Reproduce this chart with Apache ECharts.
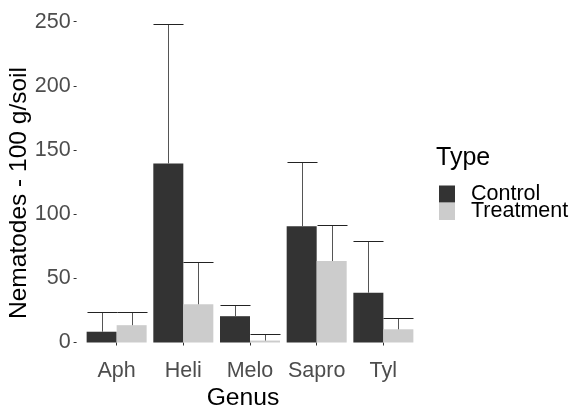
<!DOCTYPE html>
<html>
<head>
<meta charset="utf-8">
<script src="https://cdn.jsdelivr.net/npm/echarts@6/dist/echarts.min.js"></script>
<style>html,body{margin:0;padding:0;background:#fff;}#c{width:572px;height:405px;}</style>
</head>
<body>
<div id="c"></div>
<script>
var categories = ['Aph', 'Heli', 'Melo', 'Sapro', 'Tyl'];
var seriesNames = ['Control', 'Treatment'];
var controlMean = [8.4, 139.5, 20.5, 90.5, 38.8];
var controlUpper = [24, 248.5, 29, 140.5, 79];
var treatmentMean = [13.5, 29.8, 1.5, 63.5, 10.3];
var treatmentUpper = [23.5, 63, 6.5, 91.5, 19.3];
var yTicks = [0, 50, 100, 150, 200, 250];

var FONT = '"Liberation Sans", Arial, sans-serif';

function errRender(sign) {
  return function (params, api) {
    var ci = api.value(0), mean = api.value(1), up = api.value(2);
    var base = api.coord([ci, mean]);
    var top = api.coord([ci, up]);
    var band = api.size([1, 0])[0];
    var hw = band * 0.225;
    var cx = Math.round(base[0] + sign * hw) + 0.5;
    var ty = Math.round(top[1]) + 0.5;
    return {
      type: 'group',
      children: [
        { type: 'line', shape: { x1: cx, y1: base[1], x2: cx, y2: ty }, style: { stroke: '#555', lineWidth: 1 } },
        { type: 'line', shape: { x1: cx - hw, y1: ty, x2: cx + hw, y2: ty }, style: { stroke: '#222', lineWidth: 1 } }
      ]
    };
  };
}

var chart = echarts.init(document.getElementById('c'), null, { renderer: 'canvas' });
chart.setOption({
  animation: false,
  backgroundColor: '#fff',
  textStyle: { fontFamily: FONT },
  title: {
    text: 'Type', left: 436, top: 146, padding: 0,
    textStyle: { fontFamily: FONT, fontSize: 25, fontWeight: 'normal', color: '#000' }
  },
  legend: {
    data: seriesNames,
    orient: 'vertical',
    left: 439, top: 183, padding: 0,
    itemWidth: 16, itemHeight: 17, itemGap: -4.5,
    icon: 'rect',
    textStyle: { fontFamily: FONT, fontSize: 21.5, color: '#000', lineHeight: 17, padding: [0, 0, 0, 11] }
  },
  grid: { left: 83.3, right: 155.3, top: 21.7, bottom: 62.5 },
  xAxis: {
    type: 'category',
    data: categories,
    offset: 16,
    axisLine: { show: false },
    axisTick: { show: true, length: 3, interval: 0, alignWithLabel: true, lineStyle: { color: '#333' } },
    axisLabel: { color: '#4d4d4d', fontSize: 21.5, margin: 2, interval: 0, fontFamily: FONT }
  },
  yAxis: {
    type: 'value',
    min: 0, max: 250, interval: 50,
    offset: 6.7,
    axisLine: { show: false },
    splitLine: { show: false },
    axisTick: { show: true, length: 3, lineStyle: { color: '#333' } },
    axisLabel: { color: '#4d4d4d', fontSize: 21.5, margin: 6, fontFamily: FONT,
      formatter: function (v) { return yTicks.indexOf(v) >= 0 ? String(v) : ''; } }
  },
  graphic: [
    { type: 'text', x: 243, y: 398, style: { text: 'Genus', font: '24.7px ' + FONT, fill: '#000', textAlign: 'center', textVerticalAlign: 'middle' } },
    { type: 'text', x: 19.5, y: 193, rotation: Math.PI / 2, style: { text: 'Nematodes - 100 g/soil', font: '24.5px ' + FONT, fill: '#000', textAlign: 'center', textVerticalAlign: 'middle' } }
  ],
  series: [
    { name: 'Control', type: 'bar', data: controlMean, barGap: '0%', barCategoryGap: '10%', itemStyle: { color: '#333333' } },
    { name: 'Treatment', type: 'bar', data: treatmentMean, barGap: '0%', barCategoryGap: '10%', itemStyle: { color: '#cccccc' } },
    { name: 'ControlErr', type: 'custom', renderItem: errRender(-1), z: 5,
      data: categories.map(function (c, i) { return [i, controlMean[i], controlUpper[i]]; }) },
    { name: 'TreatmentErr', type: 'custom', renderItem: errRender(1), z: 5,
      data: categories.map(function (c, i) { return [i, treatmentMean[i], treatmentUpper[i]]; }) }
  ]
});
</script>
</body>
</html>
